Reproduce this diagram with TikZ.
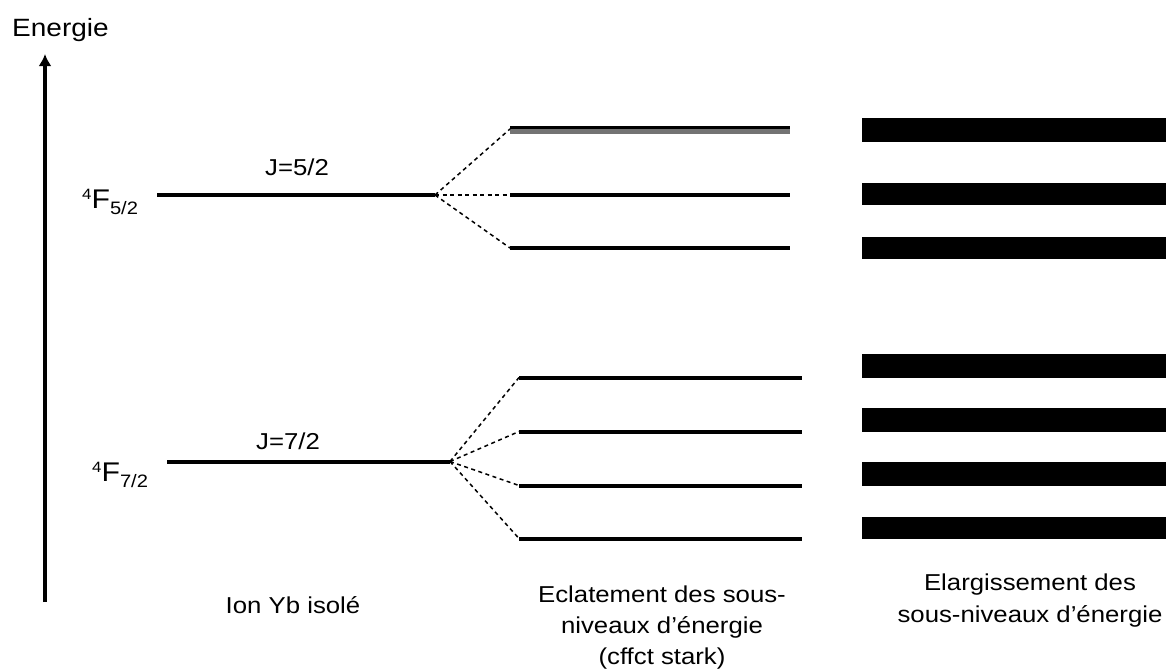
\documentclass[tikz,border=0pt]{standalone}
\usepackage{fontspec}
\setmainfont{Liberation Sans}[FakeStretch=1.12]
\usetikzlibrary{arrows.meta}
\begin{document}
\begin{tikzpicture}[x=1pt,y=-1pt,
  level/.style={line width=4pt},
  split/.style={line width=1.5pt, dash pattern=on 4pt off 3.5pt},
  bar/.style={fill=black},
  lbl/.style={inner sep=0pt, anchor=base, font=\fontsize{23}{31}\selectfont},
  term/.style={inner sep=0pt, anchor=base west, font=\fontsize{27}{30}\selectfont},
  axis/.style={line width=4pt, -{Latex[length=12pt,width=13pt]}}
  ]
\useasboundingbox (0,0) rectangle (1173,670);

% energy axis
\coordinate (axb) at (45,602);
\coordinate (axt) at (45,54);
\draw[axis] (axb) -- (axt);
\node[lbl, anchor=base west, font=\fontsize{25}{30}\selectfont] (energie) at (12,36) {Energie};

% isolated ion levels
\coordinate (u0a) at (157,195);
\coordinate (u0b) at (435,195);
\coordinate (l0a) at (167,461.5);
\coordinate (l0b) at (450,461.5);
\draw[level] (u0a) -- (u0b);
\draw[level] (l0a) -- (l0b);

\node[term] (t52) at (82,208) {\raisebox{9pt}{\fontsize{15}{15}\selectfont 4}F\raisebox{-6pt}{\fontsize{18}{18}\selectfont 5/2}};
\node[term] (t72) at (92,481) {\raisebox{9pt}{\fontsize{15}{15}\selectfont 4}F\raisebox{-6pt}{\fontsize{18}{18}\selectfont 7/2}};
\node[lbl] (j52) at (297,175) {J=5/2};
\node[lbl] (j72) at (288,449) {J=7/2};

% Stark sublevels
\coordinate (u1a) at (510,129);   \coordinate (u1b) at (790,129);
\coordinate (u2a) at (510,195);   \coordinate (u2b) at (790,195);
\coordinate (u3a) at (510,248);   \coordinate (u3b) at (790,248);
\coordinate (l1a) at (519,377.5); \coordinate (l1b) at (802,377.5);
\coordinate (l2a) at (519,431.5); \coordinate (l2b) at (802,431.5);
\coordinate (l3a) at (519,485.5); \coordinate (l3b) at (802,485.5);
\coordinate (l4a) at (519,538.5); \coordinate (l4b) at (802,538.5);

\draw[line width=8pt, black!55] ([yshift=-0.5pt]u1a) -- ([yshift=-0.5pt]u1b);
\draw[line width=3pt] ([yshift=2pt]u1a) -- ([yshift=2pt]u1b);
\foreach \n in {u2,u3,l1,l2,l3,l4} \draw[level] (\n a) -- (\n b);

\foreach \n in {u1,u2,u3} \draw[split] (u0b) -- (\n a);
\foreach \n in {l1,l2,l3,l4} \draw[split] (l0b) -- (\n a);

% broadened sublevels
\foreach \ya/\yb in {118/142,183/205,237/259,354/378,408/432,462/486,517/539}
  \fill[bar] (862,\ya) rectangle (1166,\yb);

% captions
\node[lbl] (c1) at (293,613) {Ion Yb isolé};
\node[lbl, align=center] (c2) at (662,664) {Eclatement des sous-\\niveaux d'énergie\\(cffct stark)};
\node[lbl, align=center, font=\fontsize{23}{32}\selectfont] (c3) at (1030,622) {Elargissement des\\sous-niveaux d'énergie};
\end{tikzpicture}
\end{document}
